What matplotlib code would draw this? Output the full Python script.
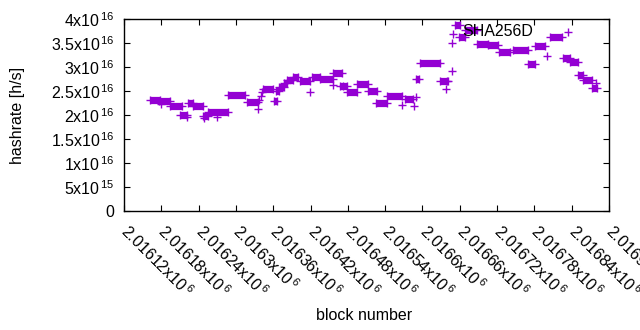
import matplotlib
matplotlib.use("Agg")
import matplotlib.pyplot as plt
from matplotlib.lines import Line2D

plt.rcParams['font.family'] = ['Liberation Sans', 'DejaVu Sans']
plt.rcParams['mathtext.fontset'] = 'custom'
plt.rcParams['mathtext.rm'] = 'Liberation Sans'
plt.rcParams['mathtext.it'] = 'Liberation Sans'
plt.rcParams['mathtext.default'] = 'regular'

# runs of blocks with the same hashrate estimate: first block, last block, hashrate
seg_start = [2016162, 2016176, 2016194, 2016210, 2016223, 2016231, 2016247, 2016255,
             2016287, 2016318, 2016344, 2016361, 2016364, 2016370, 2016377, 2016382,
             2016392, 2016403, 2016422, 2016435, 2016456, 2016467, 2016479, 2016495,
             2016512, 2016525, 2016543, 2016572, 2016590, 2016596, 2016628, 2016652,
             2016659, 2016668, 2016688, 2016705, 2016723, 2016746, 2016770, 2016781,
             2016805, 2016826, 2016837, 2016850, 2016858, 2016873]
seg_end = [2016178, 2016194, 2016213, 2016221, 2016231, 2016247, 2016255, 2016287,
           2016315, 2016335, 2016360, 2016366, 2016370, 2016377, 2016382, 2016392,
           2016400, 2016419, 2016435, 2016456, 2016471, 2016479, 2016495, 2016512,
           2016527, 2016543, 2016567, 2016585, 2016594, 2016628, 2016639, 2016660,
           2016668, 2016688, 2016705, 2016721, 2016741, 2016770, 2016781, 2016797,
           2016824, 2016837, 2016850, 2016858, 2016873, 2016881]
seg_rate = [2.31e16, 2.285e16, 2.19e16, 2.0e16, 2.25e16, 2.19e16, 1.98e16, 2.06e16,
            2.42e16, 2.27e16, 2.55e16, 2.29e16, 2.5e16, 2.58e16, 2.67e16, 2.73e16,
            2.79e16, 2.7e16, 2.79e16, 2.75e16, 2.875e16, 2.6e16, 2.48e16, 2.65e16,
            2.5e16, 2.24e16, 2.4e16, 2.33e16, 2.75e16, 3.08e16, 2.71e16, 3.885e16,
            3.625e16, 3.77e16, 3.47e16, 3.46e16, 3.31e16, 3.35e16, 3.06e16, 3.44e16,
            3.62e16, 3.19e16, 3.1e16, 2.83e16, 2.72e16, 2.56e16]

# single blocks off the runs
pt_block = [2016180, 2016221, 2016249, 2016270, 2016335, 2016337, 2016340, 2016419,
            2016456, 2016567, 2016586, 2016590, 2016638, 2016641, 2016647, 2016647,
            2016649, 2016800, 2016879, 2016342, 2016472]
pt_rate = [2.23e16, 1.96e16, 1.94e16, 1.96e16, 2.125e16, 2.31e16, 2.4e16, 2.47e16,
           2.625e16, 2.21e16, 2.19e16, 2.375e16, 2.54e16, 2.71e16, 2.92e16, 3.5e16,
           3.69e16, 3.23e16, 2.67e16, 2.47e16, 2.6e16]

x_ticks = [2016120 + 60 * i for i in range(14)]
y_ticks = [0, 5e15, 1e16, 1.5e16, 2e16, 2.5e16, 3e16, 3.5e16, 4e16]
y_labels = ['0', '5x10$^{\\,15}$', '1x10$^{\\,16}$', '1.5x10$^{\\,16}$', '2x10$^{\\,16}$',
            '2.5x10$^{\\,16}$', '3x10$^{\\,16}$', '3.5x10$^{\\,16}$', '4x10$^{\\,16}$']

color = '#9400d3'
fs = 11.5
fig = plt.figure(figsize=(6.4, 3.3), dpi=100)
ax = fig.add_axes([124 / 640, 1 - 211 / 330, 485 / 640, 192 / 330])

ms = 5.2
for a, b, r in zip(seg_start, seg_end, seg_rate):
    ax.plot([a, b], [r, r], color=color, lw=ms, solid_capstyle='butt')
    ax.plot([a, b], [r, r], ls='none', marker='+', ms=ms, mew=1.0, color=color)
ax.plot(pt_block, pt_rate, ls='none', marker='+', ms=ms, mew=1.0, color=color)

ax.set_xlim(2016120, 2016900)
ax.set_ylim(0, 4e16)
ax.set_xticks(x_ticks)
ax.set_xticklabels(['%gx10$^{\\,6}$' % (t / 1e6) for t in x_ticks],
                   rotation=-45, ha='left', va='center', rotation_mode='anchor')
ax.set_yticks(y_ticks)
ax.set_yticklabels(y_labels)
ax.tick_params(direction='in', length=4, width=0.8, labelsize=fs,
               top=True, right=True, pad=7)
ax.tick_params(axis='x', pad=12)
for s in ax.spines.values():
    s.set_linewidth(1.0)

ax.set_xlabel('block number', fontsize=fs, va='center')
ax.xaxis.set_label_coords(0.495, (211 - 316) / 192)
ax.set_ylabel('hashrate [h/s]', fontsize=fs, va='center')
ax.yaxis.set_label_coords((18 - 124) / 485, 0.5)

# key: text right-aligned, sample point to its right
fig.text(533 / 640, 1 - 31 / 330, 'SHA256D', fontsize=fs, ha='right', va='center')
fig.add_artist(Line2D([568 / 640], [1 - 32 / 330], ls='none', marker='+', ms=ms,
                      mew=1.0, color=color, transform=fig.transFigure))

fig.savefig('out.png', dpi=100)
